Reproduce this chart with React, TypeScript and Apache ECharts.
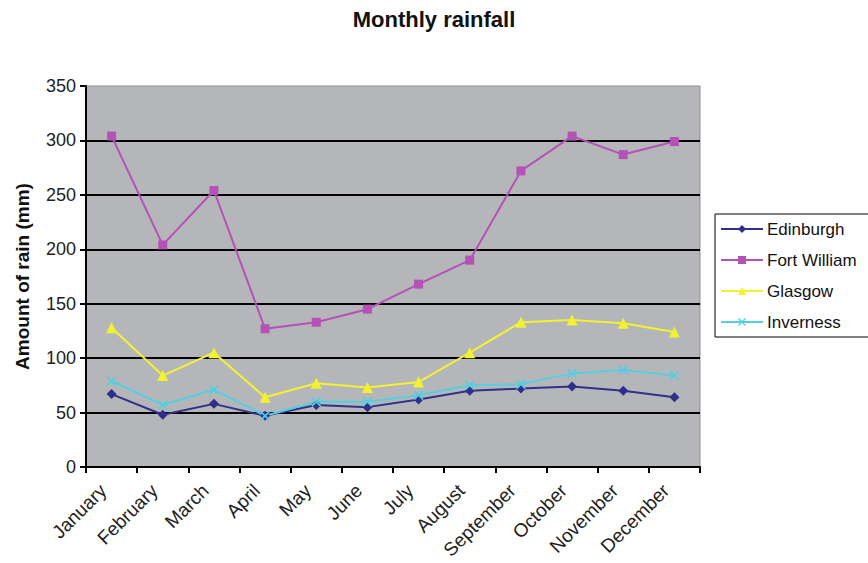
import React, { useEffect, useRef } from "react";
import * as echarts from "echarts";

const months = ["January", "February", "March", "April", "May", "June", "July", "August", "September", "October", "November", "December"];
const edinburgh = [67, 48, 58, 47, 57, 55, 62, 70, 72, 74, 70, 64];
const fortWilliam = [304, 204, 254, 127, 133, 145, 168, 190, 272, 304, 287, 299];
const glasgow = [128, 84, 105, 64, 77, 73, 78, 105, 133, 135, 132, 124];
const inverness = [79, 57, 71, 47, 60, 60, 66, 75, 76, 86, 89, 84];
const yTicks = { min: 0, max: 350, interval: 50 };

const X_SYMBOL = "path://M0,1.2 L1.2,0 L5,3.8 L8.8,0 L10,1.2 L6.2,5 L10,8.8 L8.8,10 L5,6.2 L1.2,10 L0,8.8 L3.8,5 Z";

export default function App() {
  const ref = useRef<HTMLDivElement>(null);
  useEffect(() => {
    if (!ref.current) return;
    const chart = echarts.init(ref.current, null, { renderer: "svg" });
    const font = "'Liberation Sans', Arial, sans-serif";
    const mk = (name: string, data: number[], color: string, symbol: string, size: number) => ({
      name,
      type: "line",
      data,
      symbol,
      symbolSize: size,
      showAllSymbol: true,
      lineStyle: { color, width: 2 },
      itemStyle: { color, borderWidth: 0 },
    });
    chart.setOption({
      animation: false,
      backgroundColor: "#ffffff",
      textStyle: { fontFamily: font },
      title: {
        text: "Monthly rainfall",
        left: "center",
        top: 8,
        padding: 0,
        textStyle: { fontFamily: font, fontSize: 22, fontWeight: "bold", color: "#111" },
      },
      legend: {
        orient: "vertical",
        left: 715,
        top: 214,
        padding: [6, 30, 6, 5],
        itemGap: 13,
        itemWidth: 42,
        itemHeight: 10,
        borderColor: "#000",
        borderWidth: 1,
        backgroundColor: "#fff",
        textStyle: { fontFamily: font, fontSize: 17, color: "#111", lineHeight: 18, padding: [0, 0, 0, -1] },
        data: ["Edinburgh", "Fort William", "Glasgow", "Inverness"],
      },
      grid: {
        left: 86,
        right: 168,
        top: 86,
        bottom: 96,
        show: true,
        backgroundColor: "#b5b6ba",
        borderColor: "#8f8f8f",
        borderWidth: 1,
        containLabel: false,
      },
      xAxis: {
        type: "category",
        data: months,
        boundaryGap: true,
        axisLine: { show: true, lineStyle: { color: "#000", width: 2 } },
        axisTick: { show: true, alignWithLabel: false, length: 6, lineStyle: { color: "#000", width: 2 } },
        axisLabel: {
          interval: 0,
          rotate: 45,
          margin: 12,
          fontFamily: font,
          fontSize: 19,
          color: "#222",
          padding: [0, 12, 0, 0],
        },
        splitLine: { show: false },
      },
      yAxis: {
        type: "value",
        min: yTicks.min,
        max: yTicks.max,
        interval: yTicks.interval,
        name: "Amount of rain (mm)",
        nameLocation: "middle",
        nameGap: 54,
        nameTextStyle: { fontFamily: font, fontSize: 19, fontWeight: "bold", color: "#111" },
        axisLine: { show: true, lineStyle: { color: "#000", width: 2 } },
        axisTick: { show: true, length: 6, lineStyle: { color: "#000", width: 2 } },
        axisLabel: { margin: 10, fontFamily: font, fontSize: 18, color: "#222" },
        splitLine: { show: true, showMinLine: false, showMaxLine: false, lineStyle: { color: "#000", width: 2 } },
      },
      series: [
        mk("Edinburgh", edinburgh, "#30308a", "diamond", 10),
        mk("Fort William", fortWilliam, "#b552b5", "rect", 9),
        mk("Glasgow", glasgow, "#f2f232", "triangle", 11),
        mk("Inverness", inverness, "#55cfe0", X_SYMBOL, 10),
      ],
    });
    return () => chart.dispose();
  }, []);
  return <div ref={ref} style={{ position: "fixed", left: 0, top: 0, width: 868, height: 563 }} />;
}
